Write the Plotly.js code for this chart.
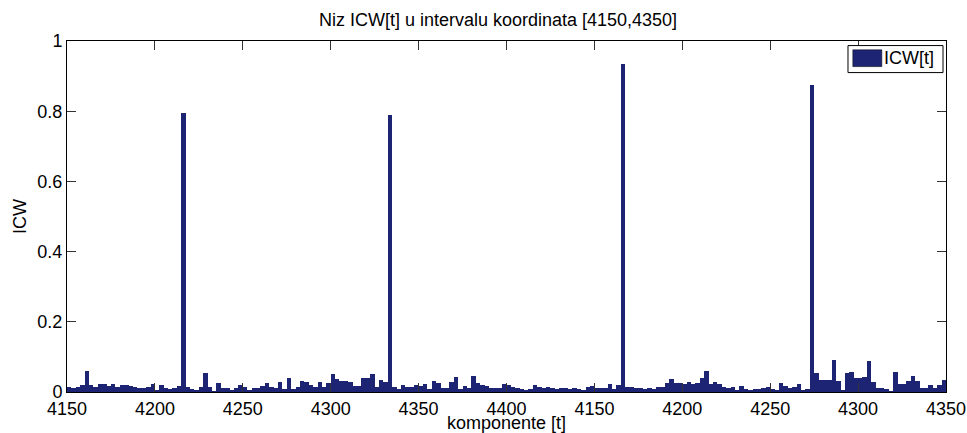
<!DOCTYPE html>
<html>
<head>
<meta charset="utf-8">
<script src="https://cdn.plot.ly/plotly-3.0.1.min.js"></script>
<style>html,body{margin:0;padding:0;background:#fff;}#chart{width:967px;height:433px;}</style>
</head>
<body>
<div id="chart"></div>
<script>
// ICW[t] values, one per component (200 components)
var icwValues = [
  0.013,0.012,0.013,0.019,0.060,0.019,0.015,0.022,0.022,0.017,
  0.023,0.013,0.021,0.019,0.017,0.015,0.010,0.012,0.014,0.023,
  0.006,0.021,0.011,0.009,0.012,0.017,0.794,0.015,0.009,0.006,
  0.015,0.055,0.013,0.004,0.027,0.011,0.011,0.006,0.010,0.019,
  0.015,0.006,0.010,0.010,0.017,0.025,0.013,0.011,0.028,0.008,
  0.039,0.008,0.015,0.030,0.028,0.021,0.014,0.028,0.014,0.027,
  0.050,0.036,0.030,0.032,0.028,0.017,0.017,0.039,0.039,0.050,
  0.015,0.034,0.028,0.790,0.015,0.008,0.019,0.015,0.015,0.021,
  0.017,0.023,0.009,0.030,0.027,0.012,0.012,0.029,0.043,0.008,
  0.017,0.011,0.047,0.027,0.019,0.017,0.010,0.010,0.012,0.023,
  0.021,0.015,0.011,0.008,0.006,0.009,0.019,0.013,0.011,0.013,
  0.011,0.009,0.011,0.011,0.009,0.011,0.009,0.006,0.013,0.017,
  0.011,0.010,0.010,0.023,0.009,0.021,0.935,0.013,0.013,0.011,
  0.011,0.009,0.011,0.008,0.015,0.015,0.027,0.036,0.025,0.025,
  0.023,0.028,0.023,0.025,0.039,0.059,0.023,0.028,0.023,0.013,
  0.011,0.015,0.006,0.017,0.008,0.005,0.008,0.009,0.011,0.014,
  0.008,0.006,0.025,0.017,0.010,0.014,0.023,0.006,0.008,0.875,
  0.055,0.033,0.033,0.033,0.091,0.030,0.006,0.053,0.057,0.039,
  0.041,0.044,0.087,0.028,0.011,0.010,0.008,0.004,0.057,0.023,
  0.023,0.032,0.045,0.031,0.011,0.010,0.019,0.010,0.021,0.033
];
// component positions (index of each value)
var componentIndex = icwValues.map(function(v, i){ return i + 1; });

// x tick positions and labels (as shown on the original axis)
var xTickPositions = [0.5, 20.5, 40.5, 60.5, 80.5, 100.5, 120.5, 140.5, 160.5, 180.5, 200.5];
var xTickLabels = ["4150","4200","4250","4300","4350","4400","4150","4200","4250","4300","4350"];
var yTickValues = [0, 0.2, 0.4, 0.6, 0.8, 1];
var yTickLabels = ["0","0.2","0.4","0.6","0.8","1"];

var seriesName = "ICW[t]";
var chartTitle = "Niz ICW[t] u intervalu koordinata [4150,4350]";
var xTitle = "komponente [t]";
var yTitle = "ICW";

var barColor = "#1c2473";
var fontFam = "Arial, 'Liberation Sans', Helvetica, sans-serif";
var fs = 18;

var trace = {
  type: "bar",
  x: componentIndex,
  y: icwValues,
  name: seriesName,
  marker: {color: barColor, line: {width: 0}},
  showlegend: false,
  hoverinfo: "x+y"
};

var layout = {
  width: 967, height: 433,
  margin: {l: 67, r: 21, t: 41, b: 41, pad: 0},
  paper_bgcolor: "#ffffff",
  plot_bgcolor: "#ffffff",
  bargap: 0,
  font: {family: fontFam, size: fs, color: "#000"},
  title: {text: chartTitle, font: {family: fontFam, size: fs, color: "#000"}, x: 0.515, xanchor: "center", y: 0.955, yanchor: "middle"},
  xaxis: {
    range: [0.5, 200.5],
    tickmode: "array", tickvals: xTickPositions, ticktext: xTickLabels,
    ticks: "inside", ticklen: 9, tickwidth: 1, tickcolor: "#333",
    showline: true, linecolor: "#000", linewidth: 1, mirror: "ticks",
    showgrid: false, zeroline: false,
    tickfont: {family: fontFam, size: fs, color: "#000"},
    title: {text: xTitle, font: {family: fontFam, size: fs, color: "#000"}, standoff: 0}
  },
  yaxis: {
    range: [0, 1],
    tickmode: "array", tickvals: yTickValues, ticktext: yTickLabels,
    ticks: "inside", ticklen: 9, tickwidth: 1, tickcolor: "#333",
    showline: true, linecolor: "#000", linewidth: 1, mirror: "ticks",
    showgrid: false, zeroline: false,
    tickfont: {family: fontFam, size: fs, color: "#000"},
    title: {text: yTitle, font: {family: fontFam, size: fs, color: "#000"}, standoff: 6}
  },
  shapes: [
    {type: "rect", xref: "paper", yref: "paper", x0: 0.8885, x1: 0.9966, y0: 0.910, y1: 0.987,
     line: {color: "#000", width: 1}, fillcolor: "#fff", layer: "above"},
    {type: "rect", xref: "paper", yref: "paper", x0: 0.894, x1: 0.927, y0: 0.927, y1: 0.975,
     line: {color: "#000", width: 0.5}, fillcolor: barColor, layer: "above"}
  ],
  annotations: [
    {xref: "paper", yref: "paper", x: 0.927, y: 0.951, xanchor: "left", yanchor: "middle",
     text: seriesName, showarrow: false, font: {family: fontFam, size: fs, color: "#000"}}
  ]
};

Plotly.newPlot("chart", [trace], layout, {displayModeBar: false, staticPlot: true});
</script>
</body>
</html>
